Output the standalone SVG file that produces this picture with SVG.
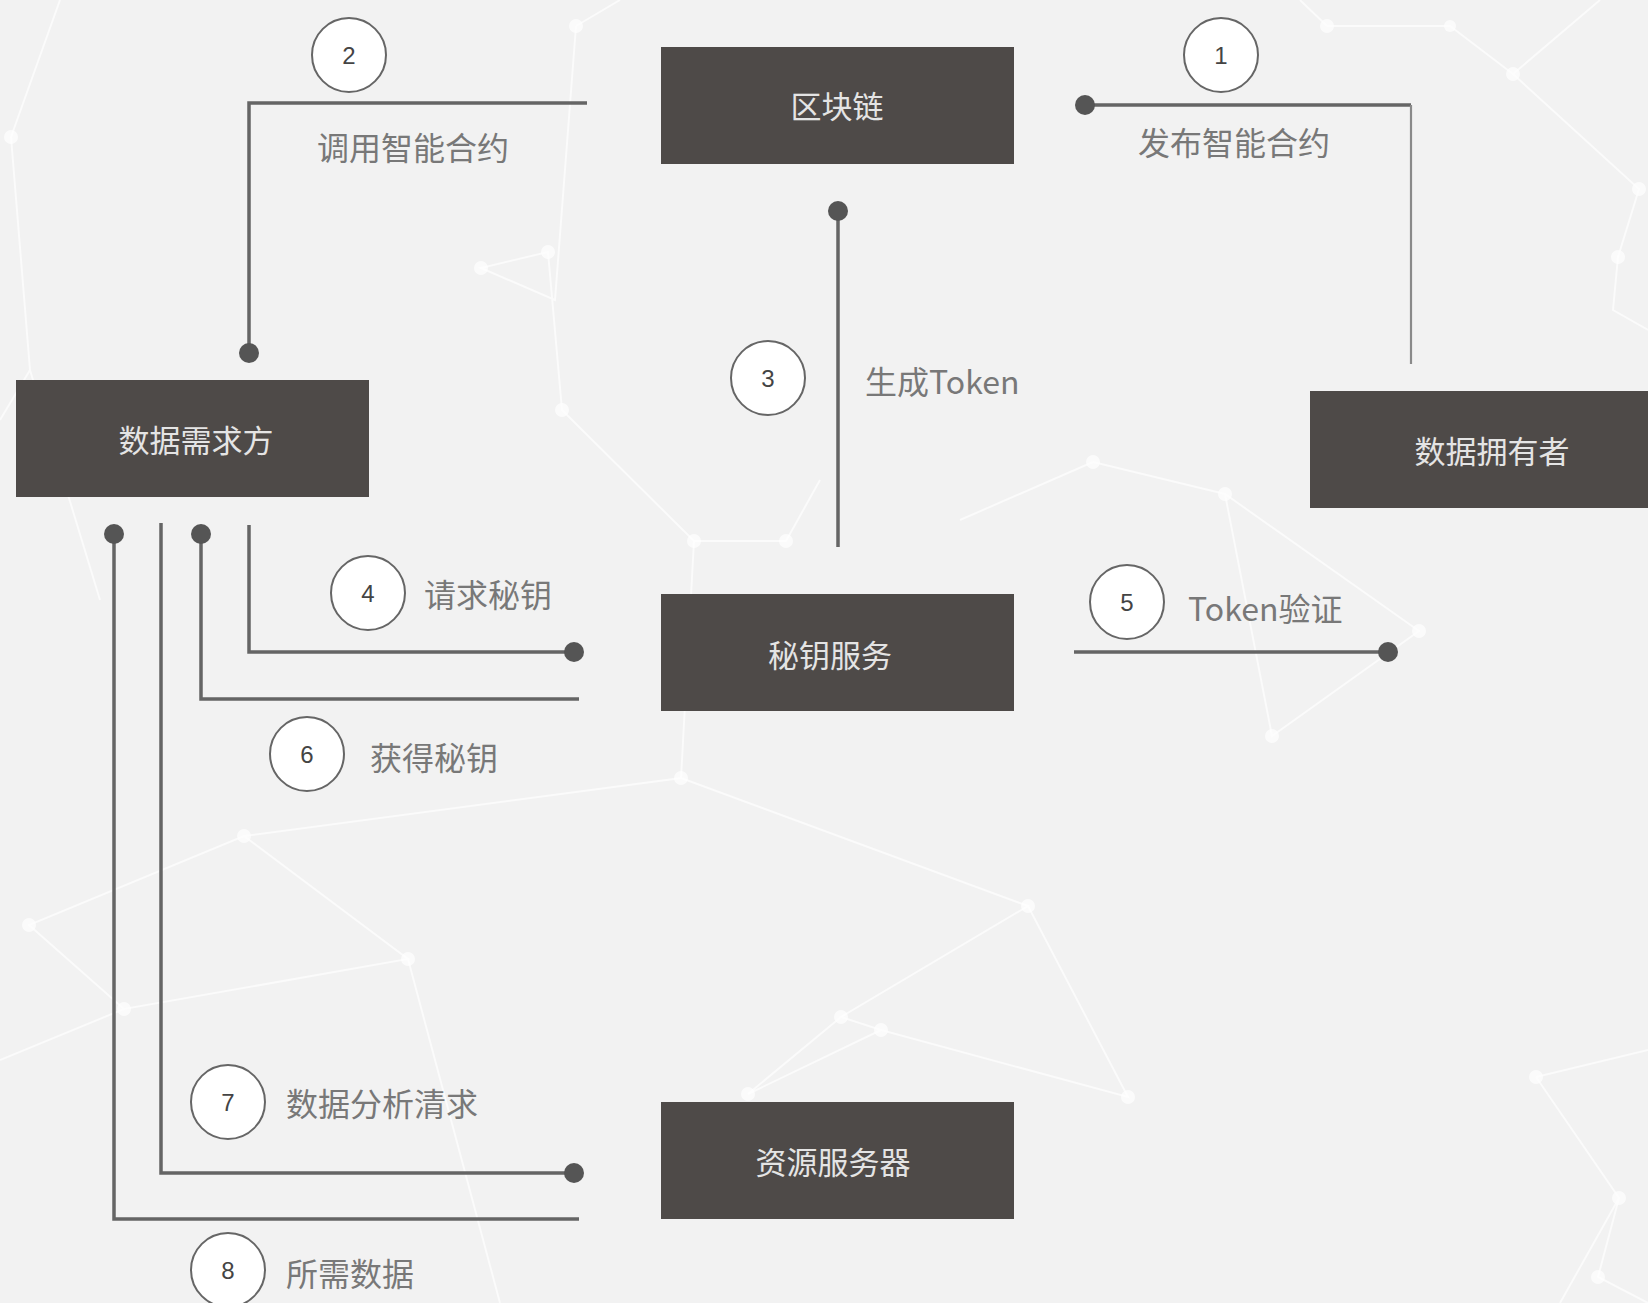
<svg xmlns="http://www.w3.org/2000/svg" width="1648" height="1303" viewBox="0 0 1648 1303">
<style>
.box{fill:#4e4a48}
.bt{font-family:"Noto Sans CJK SC","Noto Sans",sans-serif;font-size:31px;fill:#e4e4e4;text-anchor:middle;dominant-baseline:central}
.ln{fill:none;stroke:#656565;stroke-width:3.5}
.lt{fill:none;stroke:#8a8a8a;stroke-width:2.2}
.dot{fill:#555}
.num{fill:#fff;stroke:#666;stroke-width:2}
.nt{font-family:"Liberation Sans",sans-serif;font-size:24px;fill:#444;text-anchor:middle;dominant-baseline:central}
.lb{font-family:"Noto Sans CJK SC","Noto Sans",sans-serif;font-size:32px;fill:#787878;dominant-baseline:central}
.bg{stroke:#ffffff;stroke-width:2;opacity:0.65;fill:none}
.bgd{fill:#ffffff;opacity:0.7}
</style>
<rect width="1648" height="1303" fill="#f2f2f2"/>
<g id="background">
<path class="bg" d="M11,137 L60,0 M11,137 L30,370 L100,600 M30,370 L0,420 M576,26 L555,300 L481,268 L548,252 L562,410 L694,541 L786,541 L820,480 M576,26 L620,0 M1327,26 L1450,26 L1513,74 L1639,189 L1618,257 L1613,310 L1648,330 M1327,26 L1300,0 M1513,74 L1600,0 M1093,462 L1225,494 L1419,631 L1272,736 L1225,494 M1093,462 L960,520 M694,541 L681,778 L244,836 L29,925 L124,1009 L408,959 L244,836 M681,778 L1028,906 L841,1017 L881,1030 L1128,1097 L1028,906 M841,1017 L748,1094 L881,1030 M1536,1077 L1619,1198 L1598,1277 L1648,1303 M1536,1077 L1648,1050 M1619,1198 L1560,1303 M124,1009 L0,1060 M408,959 L500,1303"/>
<g class="bgd"><circle cx="11" cy="137" r="7"/><circle cx="576" cy="26" r="7"/><circle cx="1327" cy="26" r="7"/><circle cx="1450" cy="26" r="6"/><circle cx="1513" cy="74" r="7"/><circle cx="1639" cy="189" r="7"/><circle cx="1618" cy="257" r="7"/><circle cx="481" cy="268" r="7"/><circle cx="548" cy="252" r="7"/><circle cx="562" cy="410" r="7"/><circle cx="694" cy="541" r="7"/><circle cx="786" cy="541" r="7"/><circle cx="1093" cy="462" r="7"/><circle cx="1225" cy="494" r="7"/><circle cx="1419" cy="631" r="7"/><circle cx="1272" cy="736" r="7"/><circle cx="681" cy="778" r="7"/><circle cx="244" cy="836" r="7"/><circle cx="29" cy="925" r="7"/><circle cx="124" cy="1009" r="7"/><circle cx="408" cy="959" r="7"/><circle cx="1028" cy="906" r="7"/><circle cx="841" cy="1017" r="7"/><circle cx="881" cy="1030" r="7"/><circle cx="1128" cy="1097" r="7"/><circle cx="748" cy="1094" r="7"/><circle cx="1536" cy="1077" r="7"/><circle cx="1619" cy="1198" r="7"/><circle cx="1598" cy="1277" r="7"/></g>
</g>
<g id="connectors">
<path class="ln" d="M1085,105 H1411"/>
<path class="lt" d="M1411,105 V364"/>
<circle class="dot" cx="1085" cy="105" r="10"/>
<path class="ln" d="M587,103 H249 V350"/>
<circle class="dot" cx="249" cy="353" r="10"/>
<path class="ln" d="M838,547 V214"/>
<circle class="dot" cx="838" cy="211" r="10"/>
<path class="ln" d="M249,525 V652 H572"/>
<circle class="dot" cx="574" cy="652" r="10"/>
<path class="ln" d="M1074,652 H1386"/>
<circle class="dot" cx="1388" cy="652" r="10"/>
<path class="ln" d="M201,537 V699 H579"/>
<circle class="dot" cx="201" cy="534" r="10"/>
<path class="ln" d="M161,523 V1173 H572"/>
<circle class="dot" cx="574" cy="1173" r="10"/>
<path class="ln" d="M114,537 V1219 H579"/>
<circle class="dot" cx="114" cy="534" r="10"/>
</g>
<g id="labels">
<g id="step1"><circle class="num" cx="1221" cy="55" r="37"/><text class="nt" x="1221" y="55">1</text><text class="lb" x="1138" y="141">发布智能合约</text></g>
<g id="step2"><circle class="num" cx="349" cy="55" r="37"/><text class="nt" x="349" y="55">2</text><text class="lb" x="317" y="146">调用智能合约</text></g>
<g id="step3"><circle class="num" cx="768" cy="378" r="37"/><text class="nt" x="768" y="378">3</text><text class="lb" x="865" y="380">生成Token</text></g>
<g id="step4"><circle class="num" cx="368" cy="593" r="37"/><text class="nt" x="368" y="593">4</text><text class="lb" x="424" y="593">请求秘钥</text></g>
<g id="step5"><circle class="num" cx="1127" cy="602" r="37"/><text class="nt" x="1127" y="602">5</text><text class="lb" x="1188" y="607">Token验证</text></g>
<g id="step6"><circle class="num" cx="307" cy="754" r="37"/><text class="nt" x="307" y="754">6</text><text class="lb" x="370" y="756">获得秘钥</text></g>
<g id="step7"><circle class="num" cx="228" cy="1102" r="37"/><text class="nt" x="228" y="1102">7</text><text class="lb" x="286" y="1102">数据分析清求</text></g>
<g id="step8"><circle class="num" cx="228" cy="1270" r="37"/><text class="nt" x="228" y="1270">8</text><text class="lb" x="286" y="1272">所需数据</text></g>
</g>
<g id="blockchain"><rect class="box" x="661" y="47" width="353" height="117"/><text class="bt" x="837" y="104">区块链</text></g>
<g id="demander"><rect class="box" x="16" y="380" width="353" height="117"/><text class="bt" x="196" y="438">数据需求方</text></g>
<g id="owner"><rect class="box" x="1310" y="391" width="353" height="117"/><text class="bt" x="1492" y="449">数据拥有者</text></g>
<g id="keyservice"><rect class="box" x="661" y="594" width="353" height="117"/><text class="bt" x="830" y="653">秘钥服务</text></g>
<g id="resource"><rect class="box" x="661" y="1102" width="353" height="117"/><text class="bt" x="833" y="1160">资源服务器</text></g>
</svg>
